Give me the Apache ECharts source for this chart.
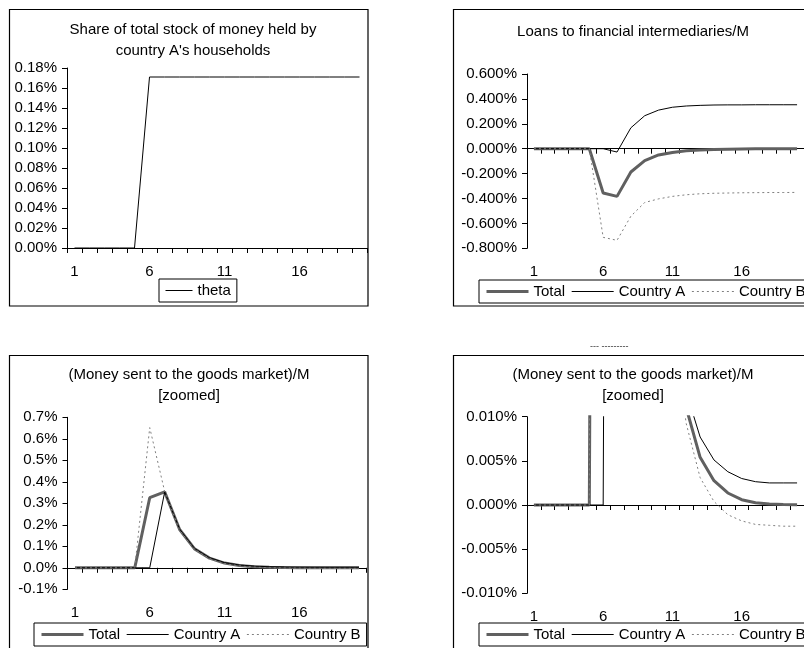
<!DOCTYPE html>
<html><head><meta charset="utf-8">
<script src="https://cdn.jsdelivr.net/npm/echarts@6/dist/echarts.min.js"></script>
<style>html,body{margin:0;padding:0;background:#fff}#c{width:804px;height:648px}</style>
</head><body><div id="c"></div>
<script>
// ---- data (values in percent) ----
const categories = ['1','2','3','4','5','6','7','8','9','10','11','12','13','14','15','16','17','18','19','20'];

const theta = [0,0,0,0,0,0.171,0.171,0.171,0.171,0.171,0.171,0.171,0.171,0.171,0.171,0.171,0.171,0.171,0.171,0.171];

const loansTotal = [0,0,0,0,0,-0.356,-0.383,-0.187,-0.096,-0.05,-0.03,-0.017,-0.01,-0.006,-0.004,-0.002,-0.001,0,0,0];
const loansA     = [0,0,0,0,0,0,-0.027,0.168,0.265,0.31,0.333,0.343,0.348,0.351,0.352,0.352,0.353,0.353,0.353,0.353];
const loansB     = [0,0,0,0,0,-0.712,-0.736,-0.542,-0.432,-0.403,-0.383,-0.37,-0.362,-0.358,-0.356,-0.354,-0.353,-0.352,-0.352,-0.351];

const moneyTotal = [0,0,0,0,0,0.326,0.353,0.178,0.088,0.045,0.022,0.011,0.0054,0.00275,0.00136,0.0006,0.00025,0.0001,0.00005,0.00002];
const moneyA     = [0,0,0,0,0,0,0.353,0.18,0.09,0.047,0.024,0.0128,0.0077,0.0051,0.00377,0.003,0.00264,0.0025,0.0025,0.0025];
const moneyB     = [0,0,0,0,0,0.652,0.355,0.176,0.086,0.043,0.02,0.0092,0.0031,0.0004,-0.0011,-0.0018,-0.0022,-0.0023,-0.0024,-0.0024];

const titles = [
  'Share of total stock of money held by\ncountry A\'s households',
  'Loans to financial intermediaries/M',
  '(Money sent to the goods market)/M\n[zoomed]',
  '(Money sent to the goods market)/M\n[zoomed]'
];
const seriesNames = ['Total','Country A','Country B'];

// ---- styling / layout ----
const FONT = 'Liberation Sans, Arial, sans-serif';
const grids = [
  {left:67, top:68, width:300, height:180},
  {left:527, top:74, width:284, height:174.3},
  {left:67.5, top:417.3, width:299, height:172},
  {left:527, top:416.7, width:284, height:176.6}
];
const yCfg = [
  {min:0, max:0.18, interval:0.02, dec:2},
  {min:-0.8, max:0.6, interval:0.2, dec:3},
  {min:-0.1, max:0.7, interval:0.1, dec:1},
  {min:-0.01, max:0.01, interval:0.005, dec:3}
];

const xAxes = [], yAxes = [];
grids.forEach((g, i) => {
  xAxes.push({
    type:'category', gridIndex:i, data:categories, boundaryGap:true, position:'bottom',
    axisLine:{show:true, onZero:true, lineStyle:{color:'#000', width:1}},
    axisTick:{show:true, interval:0, length:5, lineStyle:{color:'#000'}},
    axisLabel:{show:false}, splitLine:{show:false}
  });
  xAxes.push({
    type:'category', gridIndex:i, data:categories, boundaryGap:true, position:'bottom',
    axisLine:{show:false, onZero:false}, axisTick:{show:false},
    axisLabel:{show:true, interval:4, margin:16, color:'#000', fontSize:15, fontFamily:FONT},
    splitLine:{show:false}
  });
  const c = yCfg[i];
  yAxes.push({
    type:'value', gridIndex:i, min:c.min, max:c.max, interval:c.interval,
    axisLine:{show:true, lineStyle:{color:'#000', width:1}},
    axisTick:{show:true, length:5, lineStyle:{color:'#000'}},
    splitLine:{show:false},
    axisLabel:{color:'#000', fontSize:15, fontFamily:FONT, margin:10,
      formatter: v => (Math.abs(v) < 1e-9 ? 0 : v).toFixed(c.dec) + '%'}
  });
});

const styles = {
  'Total': {color:'#606060', width:3, type:'solid'},
  'Country A': {color:'#000000', width:1, type:'solid'},
  'Country B': {color:'#808080', width:1, type:[2,3]},
  'theta': {color:'#000000', width:1, type:'solid'}
};
function mk(name, data, gi) {
  const s = styles[name];
  return {
    name, type:'line', data, xAxisIndex:gi*2, yAxisIndex:gi, symbol:'none', smooth:false,
    clip:true, silent:true,
    lineStyle:{color:s.color, width:s.width, type:s.type},
    itemStyle:{color:s.color}, emphasis:{disabled:true}
  };
}
const series = [
  mk('theta', theta, 0),
  mk('Total', loansTotal, 1), mk('Country A', loansA, 1), mk('Country B', loansB, 1),
  mk('Total', moneyTotal, 2), mk('Country A', moneyA, 2), mk('Country B', moneyB, 2),
  mk('Total', moneyTotal, 3), mk('Country A', moneyA, 3), mk('Country B', moneyB, 3)
];

const titlePos = [[193,19],[633,21],[189,364.5],[633,364.5]];
const title = titles.map((t, i) => ({
  text:t, left:titlePos[i][0], top:titlePos[i][1], textAlign:'center', padding:0,
  textStyle:{fontSize:15, fontWeight:'normal', color:'#000', fontFamily:FONT, lineHeight:21}
}));

const legItems = names => names.map(n => ({
  name:n, lineStyle:{width:styles[n].width, color:styles[n].color, type:styles[n].type}
}));
const legBase = {
  orient:'horizontal', itemGap:6, itemHeight:14, padding:[4,6,4,6],
  borderColor:'#000', borderWidth:1, backgroundColor:'#fff', selectedMode:false,
  itemStyle:{opacity:0, borderWidth:0},
  textStyle:{fontSize:15, color:'#000', fontFamily:FONT}
};
const legend = [
  Object.assign({}, legBase, {data:legItems(['theta']), left:159, top:279, itemWidth:27}),
  Object.assign({}, legBase, {data:legItems(seriesNames), left:479, top:280, itemWidth:42, width:340}),
  Object.assign({}, legBase, {data:legItems(seriesNames), left:34, top:623, itemWidth:42, width:340}),
  Object.assign({}, legBase, {data:legItems(seriesNames), left:479, top:623, itemWidth:42, width:340})
];

const border = (x, y, w, h) => ({type:'rect', silent:true, z:-10,
  shape:{x, y, width:w, height:h}, style:{fill:'#fff', stroke:'#000', lineWidth:1.2}});

const chart = echarts.init(document.getElementById('c'), null, {renderer:'canvas'});
chart.setOption({
  animation:false,
  backgroundColor:'#fff',
  title, legend, series,
  grid: grids.map(g => Object.assign({containLabel:false}, g)),
  xAxis: xAxes, yAxis: yAxes,
  graphic: [
    border(9.5, 9.5, 358.5, 296.5),
    border(453.5, 9.5, 400, 296.5),
    border(9.5, 355.5, 358.5, 400),
    border(453.5, 355.5, 400, 400),
    {type:'text', silent:true, left:590, top:342,
      style:{text:'--- ---------', fontSize:9, fill:'#333', fontFamily:FONT}}
  ]
});
</script>
</body></html>
